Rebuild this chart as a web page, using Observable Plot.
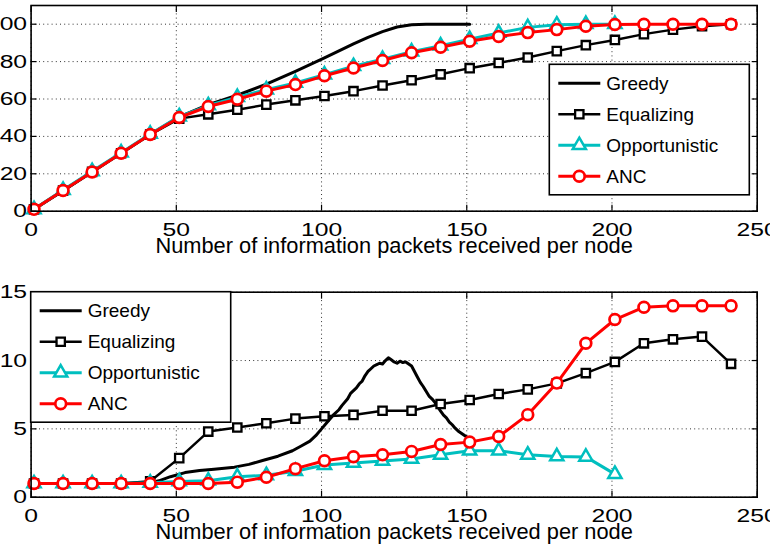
<!DOCTYPE html>
<html>
<head>
<meta charset="utf-8">
<script src="https://cdn.jsdelivr.net/npm/d3@7"></script>
<script src="https://cdn.jsdelivr.net/npm/@observablehq/plot@0.6"></script>
<style>
  body { margin: 0; background: #fff; }
  #fig { position: relative; width: 770px; height: 548px; overflow: hidden; background: #fff; }
  #fig > .panel { position: absolute; left: 0; }
  #fig > svg.legend { position: absolute; left: 0; top: 0; pointer-events: none; }
</style>
</head>
<body>
<div id="fig"></div>
<script>
// Shared axis definitions
const xTicks = [0, 50, 100, 150, 200, 250];
const yTicksTop = [0, 20, 40, 60, 80, 100];
const yTicksBottom = [0, 5, 10, 15];
const xTitle = "Number of information packets received per node";
const seriesNames = ["Greedy", "Equalizing", "Opportunistic", "ANC"];

// Marker positions (packets received per node)
const packets = [1, 11, 21, 31, 41, 51, 61, 71, 81, 91, 101, 111, 121, 131, 141, 151, 161, 171, 181, 191, 201, 211, 221, 231, 241];
const packetsOpp = [1, 11, 21, 31, 41, 51, 61, 71, 81, 91, 101, 111, 121, 131, 141, 151, 161, 171, 181, 191, 201];

// Upper panel
const greedyTopX = [1, 11, 21, 31, 41, 51, 61, 71, 81, 91, 101, 111, 116, 121, 126, 131, 136, 141, 151];
const greedyTopY = [1, 11, 21, 31, 41, 50.5, 57, 62, 68, 74.8, 82, 89.5, 93, 96, 98.5, 99.7, 100, 100, 100];
const equalTop = [1, 11, 21, 31, 41, 49.5, 51.8, 54.3, 57, 59.3, 61.6, 64.2, 67.2, 70, 73.2, 76.5, 79.3, 82.2, 85.6, 88.8, 91.6, 94.7, 97.1, 98.9, 100];
const oppTop = [1, 11.3, 21.3, 31.3, 41.3, 50.6, 56.5, 61, 65, 68.6, 73, 77.5, 81.3, 85.3, 88.5, 92, 95.3, 98.3, 99.7, 100, 100];
const ancTop = [1, 11.1, 21, 31, 41, 50.1, 56, 59.9, 64.2, 67.7, 72.4, 76.6, 80.6, 84.7, 87.7, 90.9, 93.4, 95.5, 97.1, 98.9, 99.8, 100, 100, 100, 100];

// Lower panel
const greedyBotX = [1, 11, 21, 31, 41, 44, 48, 53, 58, 63, 70, 75, 80, 85, 90, 93, 96, 98, 100, 102, 104, 106, 107, 109, 110, 111, 112, 113, 114, 115, 116, 117, 118, 119, 120, 121, 122, 123, 124, 125, 126, 127, 128, 129, 130, 131, 132, 133, 134, 135, 136, 137, 138, 139, 140, 141, 142, 143, 144, 145, 146, 147, 148, 149, 150, 151];
const greedyBotY = [1, 1, 1, 1, 1.05, 1.2, 1.5, 1.8, 1.95, 2.05, 2.2, 2.4, 2.7, 3.0, 3.4, 3.75, 4.1, 4.5, 5.0, 5.5, 6.0, 6.4, 6.7, 7.2, 7.6, 7.8, 8.0, 8.3, 8.5, 8.9, 9.2, 9.4, 9.6, 9.7, 9.8, 9.75, 10.0, 10.2, 10.05, 9.9, 9.8, 9.95, 9.85, 9.9, 9.75, 9.6, 9.2, 8.8, 8.4, 8.1, 7.75, 7.4, 7.2, 6.95, 6.6, 6.3, 6.0, 5.8, 5.5, 5.3, 5.05, 4.85, 4.7, 4.55, 4.4, 4.25];
const equalBot = [1, 1, 1, 1, 1.17, 2.86, 4.8, 5.1, 5.41, 5.75, 5.92, 6.02, 6.33, 6.33, 6.82, 7.11, 7.55, 7.89, 8.33, 9.08, 9.9, 11.26, 11.55, 11.75, 9.76];
const oppBot = [1, 1, 1, 1, 1.05, 1.15, 1.2, 1.5, 1.6, 1.9, 2.35, 2.5, 2.65, 2.8, 3.1, 3.4, 3.4, 3.1, 2.98, 2.95, 1.69];
const ancBot = [1, 1, 1, 1, 1, 1, 1, 1.1, 1.46, 2.09, 2.67, 2.96, 3.1, 3.35, 3.86, 4.03, 4.44, 6.04, 8.35, 11.26, 13.0, 13.9, 14, 14, 14];

const FONT = "'Liberation Sans', Arial, Helvetica, sans-serif";
const CYAN = "#00bfbf";
const RED = "#ff0000";
const TICK_STRETCH = 1.3; // tick numerals are set wide

// Per-series line and marker styling
const styles = {
  Greedy:        {stroke: "black", lineWidth: 3, symbol: null},
  Equalizing:    {stroke: "black", lineWidth: 2.5, symbol: "square", r: 4.7, markerWidth: 2.3},
  Opportunistic: {stroke: CYAN, lineWidth: 3, symbol: "triangle", r: 4.9, markerWidth: 2.5},
  ANC:           {stroke: RED, lineWidth: 3, symbol: "circle", r: 5.4, markerWidth: 2.7}
};

const zip = (xs, ys) => xs.map((x, i) => ({x, y: ys[i]}));

function seriesMarks(name, rows) {
  const s = styles[name];
  const out = [Plot.line(rows, {x: "x", y: "y", stroke: s.stroke, strokeWidth: s.lineWidth, strokeLinejoin: "round"})];
  if (s.symbol) {
    out.push(Plot.dot(rows, {x: "x", y: "y", symbol: s.symbol, r: s.r, stroke: s.stroke, strokeWidth: s.markerWidth, fill: "white"}));
  }
  return out;
}

function panel({yDomain, yTicks, series, height, marginTop, marginBottom}) {
  const svg = Plot.plot({
    width: 770,
    height,
    marginLeft: 30.6,
    marginRight: 13.3,
    marginTop,
    marginBottom,
    style: {fontFamily: FONT, fontSize: "19px", color: "black", background: "transparent", overflow: "visible"},
    x: {domain: [0, 250], label: null},
    y: {domain: yDomain, label: null},
    marks: [
      Plot.gridX(xTicks, {stroke: "#333", strokeOpacity: 1, strokeDasharray: "1,3.2", strokeWidth: 1}),
      Plot.gridY(yTicks, {stroke: "#333", strokeOpacity: 1, strokeDasharray: "1,3.2", strokeWidth: 1}),
      ...series.flatMap(([name, rows]) => seriesMarks(name, rows)),
      Plot.axisX(xTicks, {anchor: "bottom", tickSize: 0, tickPadding: 11, fontSize: 19, label: null}),
      Plot.axisY(yTicks, {anchor: "left", tickSize: 0, tickPadding: 4, fontSize: 19, label: null}),
      Plot.axisX(xTicks, {anchor: "bottom", tickSize: -6, fill: "none", strokeWidth: 1.2, label: null}),
      Plot.axisX(xTicks, {anchor: "top", tickSize: -6, fill: "none", strokeWidth: 1.2, label: null}),
      Plot.axisY(yTicks, {anchor: "left", tickSize: -6, fill: "none", strokeWidth: 1.2, label: null}),
      Plot.axisY(yTicks, {anchor: "right", tickSize: -6, fill: "none", strokeWidth: 1.2, label: null}),
      Plot.frame({stroke: "black", strokeWidth: 1.6}),
      Plot.text([xTitle], {frameAnchor: "bottom", lineAnchor: "top", dy: 26, fontSize: 21.8, fill: "black"})
    ]
  });
  // widen the tick numerals about their own anchor point
  svg.querySelectorAll('g[aria-label="x-axis tick label"] text, g[aria-label="y-axis tick label"] text')
    .forEach((t) => {
      const tr = t.getAttribute("transform") || "";
      t.setAttribute("transform", `${tr} scale(${TICK_STRETCH},1)`);
    });
  return svg;
}

const fig = document.getElementById("fig");

const upperPanel = panel({
  yDomain: [0, 110],
  yTicks: yTicksTop,
  height: 265,
  marginTop: 5,
  marginBottom: 54.3,
  series: [
    ["Greedy", zip(greedyTopX, greedyTopY)],
    ["Equalizing", zip(packets, equalTop)],
    ["Opportunistic", zip(packetsOpp, oppTop)],
    ["ANC", zip(packets, ancTop)]
  ]
});
upperPanel.classList.add("panel");
upperPanel.style.top = "0px";
fig.appendChild(upperPanel);

const lowerPanel = panel({
  yDomain: [0, 15],
  yTicks: yTicksBottom,
  height: 283,
  marginTop: 26.7,
  marginBottom: 51.3,
  series: [
    ["Greedy", zip(greedyBotX, greedyBotY)],
    ["Equalizing", zip(packets, equalBot)],
    ["Opportunistic", zip(packetsOpp, oppBot)],
    ["ANC", zip(packets, ancBot)]
  ]
});
lowerPanel.classList.add("panel");
lowerPanel.style.top = "265px";
fig.appendChild(lowerPanel);

// Legend boxes drawn over both panels
const legendLayer = d3.select(fig).append("svg")
  .attr("class", "legend")
  .attr("width", 770)
  .attr("height", 548);

function drawLegend(x0, y0) {
  const g = legendLayer.append("g").attr("transform", `translate(${x0},${y0})`);
  g.append("rect").attr("width", 200).attr("height", 130.5)
    .attr("fill", "white").attr("stroke", "black").attr("stroke-width", 1.6);
  seriesNames.forEach((name, i) => {
    const s = styles[name];
    const cy = 19 + i * 31;
    const row = g.append("g").attr("transform", `translate(0,${cy})`);
    row.append("line").attr("x1", 9).attr("x2", 51).attr("y1", 0).attr("y2", 0)
      .attr("stroke", s.stroke).attr("stroke-width", s.lineWidth);
    if (s.symbol) {
      const sym = {square: d3.symbolSquare, triangle: d3.symbolTriangle, circle: d3.symbolCircle}[s.symbol];
      row.append("path")
        .attr("transform", "translate(30,0)")
        .attr("d", d3.symbol(sym, s.r * s.r * Math.PI)())
        .attr("fill", "white").attr("stroke", s.stroke).attr("stroke-width", s.markerWidth);
    }
    row.append("text").attr("x", 57).attr("y", 0).attr("dy", "0.35em")
      .attr("font-family", FONT).attr("font-size", 19).attr("fill", "black")
      .text(name);
  });
}

drawLegend(549.3, 64.3);
drawLegend(30.7, 291.7);
</script>
</body>
</html>
